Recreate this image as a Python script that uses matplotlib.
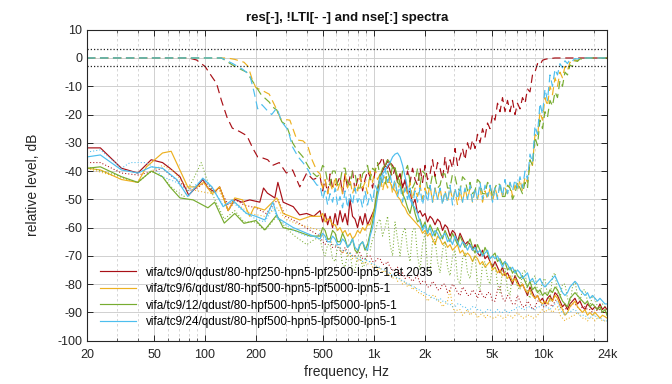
import matplotlib
matplotlib.use("Agg")
import matplotlib.pyplot as plt
from matplotlib.ticker import FixedLocator, NullFormatter, LogLocator

plt.rcParams['font.family'] = ['Liberation Sans', 'DejaVu Sans']
plt.rcParams['axes.unicode_minus'] = False

# shared frequency grid (Hz) for the noisy upper part of every curve
F_HI = [480, 497, 514, 532, 550, 569, 589, 609, 630, 652,
        675, 698, 722, 747, 773, 800, 828, 857, 886, 917,
        949, 982, 1016, 1051, 1088, 1125, 1164, 1205, 1246, 1290,
        1334, 1380, 1428, 1478, 1529, 1582, 1637, 1693, 1752, 1813,
        1876, 1941, 2008, 2078, 2150, 2224, 2301, 2381, 2464, 2549,
        2637, 2729, 2823, 2921, 3022, 3127, 3236, 3348, 3464, 3584,
        3708, 3837, 3969, 4107, 4249, 4397, 4549, 4707, 4870, 5039,
        5213, 5394, 5581, 5774, 5974, 6181, 6395, 6617, 6846, 7083,
        7329, 7583, 7846, 8118, 8399, 8690, 8991, 9303, 9625, 9959,
        10300, 10660, 11030, 11410, 11810, 12220, 12640, 13080, 13530, 14000,
        14490, 14990, 15510, 16050, 16600, 17180, 17770, 18390, 19020, 19680,
        20360, 21070, 21800, 22560, 23340, 24000]

# ---- vifa/tc9/0 (red) ----
RED_RES_LO_F = [20, 24, 32, 40, 48, 56, 62, 71, 80, 89, 97, 104, 114, 122, 137, 150, 165, 184,
                211, 222, 234, 259, 270, 290, 333, 363, 400, 440]
RED_RES_LO_DB = [-31.8, -31.8, -39, -40.7, -36, -37, -39, -42, -48.5, -45.6, -43, -46, -47.4, -45.6,
                 -54, -50, -51, -50.2, -51, -46, -47.8, -49.5, -44, -51, -52.6, -55.5, -55, -56]
RED_RES_HI_DB = [-54, -58, -55, -59, -56, -60, -55, -59, -54, -58,
                 -55, -59, -50, -56, -57, -60, -56, -59, -55, -59,
                 -57, -55, -53, -47, -42, -40, -38, -39, -37, -38,
                 -40, -43, -41, -46, -43, -48, -47, -52, -50, -55,
                 -54, -56, -55, -58, -56, -57, -59, -57, -58, -61,
                 -59, -60, -63, -61, -62, -65, -62, -64, -66, -65,
                 -66, -68, -66, -69, -70, -68, -71, -70, -72, -74,
                 -72, -74, -76, -74, -77, -76, -78, -80, -77, -79,
                 -81, -80, -82, -84, -81, -83, -85, -84, -86, -85,
                 -87, -85, -84, -86, -83, -84, -86, -88, -87, -89,
                 -87, -86, -85, -87, -86, -88, -89, -87, -88, -89,
                 -88, -89, -87, -89, -88, -89]
RED_LTI_LO_F = [20, 80, 89, 100, 110, 117, 125, 135, 145, 160, 177, 192, 205, 220, 235, 251,
                275, 303, 330, 364, 400, 436]
RED_LTI_LO_DB = [0, 0, -0.7, -3, -6.7, -9, -15, -21, -24.8, -26, -27.5, -32, -35, -35.4, -36, -38,
                 -37, -40.7, -39.6, -45.6, -40.7, -43]
RED_LTI_HI_DB = [-42, -47, -43, -48, -41, -46, -45, -44, -42, -48,
                 -41, -46, -42, -40, -47, -43, -41, -47, -43, -40,
                 -42, -46, -40, -38, -37, -35, -39, -36, -40, -42,
                 -39, -44, -41, -45, -44, -40, -44, -39, -43, -45,
                 -39, -44, -38, -43, -41, -36, -42, -37, -39, -43,
                 -35, -41, -36, -39, -32, -38, -35, -32, -36, -30,
                 -33, -29, -32, -27, -30, -25, -28, -23, -25, -20,
                 -22, -16, -19, -14, -19, -15, -19, -15, -20, -16,
                 -18, -14, -16, -11, -12, -6, -5, -2, -2.5, -0.8,
                 -0.5, -0.3, -0.2, -0.1, 0, 0, 0, 0, 0, 0,
                 0, 0, 0, 0, 0, 0, 0, 0, 0, 0,
                 0, 0, 0, 0, 0, 0]
RED_NSE_LO_F = [20, 24, 32, 40, 48, 56, 64, 71, 80, 90, 100, 114, 122, 137, 150, 170, 200, 230,
                270, 300, 350, 420]
RED_NSE_LO_DB = [-37, -37, -40.7, -41.4, -40.3, -39, -42, -44, -47, -46, -44, -47, -46, -52, -50,
                 -52, -53, -55, -50, -56, -58, -61]
RED_NSE_HI_DB = [-63, -65, -66, -64, -65, -67, -67, -66, -68, -69,
                 -67, -69, -69, -70, -70, -68, -69, -71, -71, -70,
                 -70, -72, -72, -71, -71, -73, -73, -72, -74, -75,
                 -75, -74, -77, -76, -78, -77, -78, -79, -78, -77,
                 -80, -79, -79, -81, -81, -79, -80, -82, -82, -80,
                 -80, -83, -82, -80, -81, -83, -84, -81, -82, -84,
                 -84, -82, -83, -85, -82, -84, -85, -83, -83, -86,
                 -86, -82, -81, -85, -86, -84, -85, -87, -87, -84,
                 -86, -88, -88, -86, -87, -89, -88, -86, -86, -88,
                 -88, -87, -87, -88, -86, -85, -88, -89, -89, -88,
                 -88, -87, -87, -88, -89, -88, -88, -89, -89, -90,
                 -90, -89, -89, -90, -90, -90]

# ---- vifa/tc9/6 (orange) ----
ORA_RES_LO_F = [20, 24, 32, 40, 45, 56, 63, 79, 90, 98, 110, 122, 137, 150, 167, 184, 196, 225,
                266, 290, 364, 420]
ORA_RES_LO_DB = [-39, -39.6, -43, -44, -38.5, -33.6, -33, -45.6, -45.6, -44, -48, -45.6, -54,
                 -49.5, -50.2, -56, -52.6, -53.8, -49.5, -55, -57.3, -56]
ORA_RES_HI_DB = [-56, -55, -58, -57, -57, -59, -59, -61, -60, -62,
                 -61, -63, -62, -64, -63, -61, -62, -60, -61, -59,
                 -59, -56, -52, -48, -45, -43, -42, -44, -44, -46,
                 -47, -49, -50, -52, -53, -55, -56, -57, -58, -59,
                 -60, -62, -61, -63, -62, -64, -66, -63, -64, -66,
                 -65, -67, -66, -68, -67, -66, -69, -68, -70, -69,
                 -70, -72, -70, -71, -73, -72, -74, -73, -72, -75,
                 -74, -76, -75, -77, -76, -78, -77, -79, -78, -80,
                 -81, -80, -82, -83, -82, -84, -85, -84, -86, -87,
                 -86, -87, -85, -86, -84, -85, -87, -89, -91, -90,
                 -88, -87, -86, -88, -89, -90, -89, -91, -90, -91,
                 -90, -91, -92, -91, -91.5, -92]
ORA_LTI_LO_F = [20, 135, 150, 170, 180, 190, 200, 215, 240, 262, 280, 318, 350, 380, 405, 430, 460]
ORA_LTI_LO_DB = [0, 0, -0.5, -1.5, -3, -7.5, -10.5, -11.3, -12.8, -17.5, -21.5, -22, -29, -29.3,
                 -31, -36, -40]
ORA_LTI_HI_DB = [-41, -46, -43, -48, -44, -47, -42, -47, -44, -48,
                 -41, -46, -43, -48, -45, -47, -42, -46, -44, -48,
                 -40, -44, -39, -43, -41, -47, -43, -46, -42, -48,
                 -44, -48, -43, -49, -45, -48, -44, -50, -46, -49,
                 -45, -50, -46, -49, -45, -51, -46, -50, -46, -51,
                 -47, -51, -46, -50, -47, -52, -47, -51, -46, -50,
                 -46, -51, -47, -50, -46, -51, -47, -50, -46, -51,
                 -46, -49, -45, -49, -46, -48, -44, -49, -45, -47,
                 -43, -47, -42, -44, -37, -38, -27, -28, -19, -22,
                 -14, -17, -10, -13, -7, -10, -5, -7, -3, -4.5,
                 -1.5, -2, -0.6, -1, -0.2, -0.3, 0, 0, 0, 0,
                 0, 0, 0, 0, 0, 0]
ORA_NSE_LO_F = [20, 32, 40, 48, 56, 65, 79, 90, 110, 122, 137, 150, 184, 225, 266, 300, 364, 420]
ORA_NSE_LO_DB = [-39, -42.5, -44, -40, -38, -40, -46, -47, -48, -47, -54, -51, -55, -56, -53,
                 -57, -59, -60]
ORA_NSE_HI_DB = [-61, -63, -63, -64, -64, -66, -66, -67, -67, -69,
                 -68, -70, -69, -71, -70, -72, -71, -73, -72, -73,
                 -72, -74, -73, -75, -74, -76, -75, -77, -76, -78,
                 -77, -79, -78, -80, -79, -81, -80, -82, -81, -83,
                 -83, -84, -84, -86, -85, -84, -84, -86, -86, -88,
                 -87, -86, -82, -88, -90, -89, -89, -91, -90, -89,
                 -91, -90, -90, -92, -91, -90, -92, -91, -91.5, -92,
                 -92, -91, -91, -92, -92, -91, -91, -92, -91, -90,
                 -91, -92, -92, -91, -91, -92, -92, -91, -90, -89,
                 -90, -89, -89, -90, -89, -88, -91, -92, -93, -92,
                 -92, -91, -91, -90, -91, -92, -92, -93, -92, -92,
                 -93, -92, -92, -93, -93, -93]

# ---- vifa/tc9/12 (green) ----
GRN_RES_LO_F = [20, 24, 32, 40, 48, 56, 62, 71, 85, 104, 114, 130, 150, 170, 200, 226, 266, 290,
                340, 420]
GRN_RES_LO_DB = [-39, -38.5, -42, -44, -40, -42, -45.6, -49.5, -50.2, -53, -51, -58.4, -55, -58.5,
                 -57.5, -60.8, -55.5, -60, -61, -63]
GRN_RES_HI_DB = [-63, -60, -61, -64, -64, -61, -62, -65, -65, -62,
                 -64, -67, -66, -64, -68, -69, -66, -65, -68, -66,
                 -62, -58, -52, -46, -42, -39, -38, -36, -37, -39,
                 -39, -42, -44, -48, -50, -53, -55, -51, -55, -58,
                 -57, -60, -58, -62, -59, -61, -63, -60, -62, -64,
                 -61, -63, -65, -62, -64, -66, -63, -65, -67, -66,
                 -64, -67, -69, -66, -68, -70, -67, -69, -71, -70,
                 -69, -72, -71, -73, -72, -75, -74, -76, -75, -77,
                 -78, -77, -79, -81, -79, -82, -81, -83, -82, -84,
                 -83, -84, -82, -83, -81, -82, -84, -86, -87, -88,
                 -85, -84, -83, -84, -85, -86, -87, -86, -88, -87,
                 -88, -89, -88, -90, -89, -91]
GRN_LTI_LO_F = [20, 125, 150, 176, 195, 215, 240, 251, 266, 285, 303, 330, 350, 380, 410, 436, 460]
GRN_LTI_LO_DB = [0, 0, -3, -5, -9, -13, -15.6, -17.3, -18.4, -22.6, -23.7, -30, -32.5, -35, -38.5,
                 -40.7, -42]
GRN_LTI_HI_DB = [-41, -38, -39, -44, -45, -40, -40, -45, -44, -39,
                 -39, -44, -45, -40, -41, -46, -46, -41, -40, -38,
                 -43, -39, -40, -37, -42, -44, -45, -40, -43, -38,
                 -39, -44, -45, -40, -40, -38, -44, -46, -44, -39,
                 -45, -40, -41, -46, -46, -41, -42, -46, -45, -41,
                 -41, -46, -46, -41, -42, -46, -47, -42, -43, -47,
                 -44, -48, -47, -43, -44, -48, -48, -44, -45, -49,
                 -46, -44, -45, -49, -49, -45, -46, -50, -48, -44,
                 -46, -48, -44, -46, -36, -38, -28, -31, -22, -25,
                 -19, -21, -15, -17, -12, -14, -8, -10, -5, -6,
                 -2.5, -3, -1, -1.2, -0.3, -0.5, 0, 0, 0, 0,
                 0, 0, 0, 0, 0, 0]
GRN_NSE_LO_F = [20, 32, 40, 48, 56, 64, 75, 85, 95, 104, 114, 130, 150, 170, 200, 226, 266, 300,
                340, 400, 450]
GRN_NSE_LO_DB = [-38.5, -42, -44, -40, -42, -46, -49, -43, -37, -44, -50, -57, -54, -58, -58, -61,
                 -56, -60, -63, -66, -64]
GRN_NSE_HI_DB = [-64, -68, -70, -66, -66, -71, -72, -67, -67, -73,
                 -74, -69, -69, -75, -75, -70, -70, -74, -73, -68,
                 -68, -64, -62, -58, -57, -63, -60, -56, -66, -70,
                 -58, -64, -70, -62, -60, -68, -72, -61, -60, -70,
                 -75, -66, -62, -74, -76, -65, -64, -72, -76, -68,
                 -65, -74, -77, -70, -68, -78, -80, -71, -69, -76,
                 -78, -72, -70, -80, -82, -73, -72, -78, -80, -73,
                 -73, -80, -83, -75, -74, -82, -84, -76, -76, -81,
                 -82, -76, -75, -83, -85, -78, -77, -82, -84, -79,
                 -78, -84, -86, -77, -76, -83, -85, -80, -80, -85,
                 -87, -81, -79, -84, -86, -82, -82, -86, -88, -84,
                 -85, -88, -89, -87, -88, -90]

# ---- vifa/tc9/24 (blue) ----
BLU_RES_LO_F = [20, 24, 32, 40, 48, 56, 68, 79, 97, 110, 128, 145, 176, 200, 226, 252, 270, 333,
                400, 440]
BLU_RES_LO_DB = [-35, -34.3, -39.6, -40.7, -38.5, -39, -43, -49, -42.5, -45.6, -52.6, -50.2, -55,
                 -56, -57.3, -51, -56.6, -60, -62, -63]
BLU_RES_HI_DB = [-64, -62, -63, -65, -65, -63, -64, -66, -66, -64,
                 -65, -67, -66, -64, -67, -68, -66, -65, -67, -68,
                 -63, -60, -55, -49, -45, -41, -40, -38, -37, -35,
                 -34, -33.6, -35, -38, -42, -46, -50, -52, -53, -55,
                 -58, -61, -59, -62, -60, -63, -61, -62, -64, -63,
                 -62, -65, -64, -66, -63, -65, -67, -65, -66, -68,
                 -66, -68, -67, -69, -68, -70, -69, -68, -71, -70,
                 -71, -70, -72, -74, -72, -73, -75, -74, -76, -75,
                 -76, -78, -77, -76, -79, -78, -80, -79, -78, -80,
                 -81, -80, -79, -78, -77, -79, -81, -83, -84, -83,
                 -81, -80, -79, -80, -82, -83, -84, -83, -85, -84,
                 -85, -86, -85, -86, -87, -87]
BLU_LTI_LO_F = [20, 125, 146, 167, 184, 195, 205, 217, 232, 248, 266, 285, 310, 330, 356, 380, 408,
                436, 460]
BLU_LTI_LO_DB = [0, 0, -2, -4, -6, -12, -18, -16.5, -18.4, -20, -17.7, -22.6, -25.5, -31.5, -35,
                 -37, -39.6, -43, -45]
BLU_LTI_HI_DB = [-45, -50, -47, -52, -48, -51, -46, -52, -49, -53,
                 -47, -53, -48, -52, -46, -51, -49, -53, -47, -52,
                 -48, -51, -45, -47, -42, -44, -39, -44, -41, -46,
                 -43, -49, -45, -51, -46, -50, -46, -52, -47, -51,
                 -46, -52, -47, -51, -45, -51, -46, -50, -46, -52,
                 -47, -51, -45, -52, -46, -50, -45, -51, -46, -50,
                 -45, -51, -46, -50, -44, -50, -45, -49, -45, -51,
                 -46, -50, -44, -49, -43, -48, -44, -47, -43, -46,
                 -42, -46, -40, -43, -34, -37, -24, -27, -16, -20,
                 -11, -15, -6, -10, -4, -6, -2, -3.5, -1, -2,
                 -0.5, -1, -0.2, -0.4, 0, 0, 0, 0, 0, 0,
                 0, 0, 0, 0, 0, 0]
BLU_NSE_LO_F = [20, 24, 32, 36, 44, 48, 56, 68, 79, 97, 110, 128, 145, 176, 200, 226, 252, 270,
                333, 400, 460]
BLU_NSE_LO_DB = [-33.3, -32.5, -39, -37, -37, -38, -42, -44, -47, -43, -46, -52, -51, -55, -57,
                 -58, -53, -57, -61, -63, -63]
BLU_NSE_HI_DB = [-62, -63, -64, -65, -65, -66, -66, -67, -67, -68,
                 -68, -69, -69, -70, -70, -71, -71, -72, -71, -72,
                 -72, -73, -73, -74, -74, -75, -75, -76, -76, -77,
                 -77, -78, -78, -79, -79, -80, -80, -81, -81, -82,
                 -82, -83, -83, -84, -84, -85, -85, -86, -85, -86,
                 -86, -87, -87, -88, -88, -87, -87, -88, -88, -89,
                 -89, -88, -88, -89, -89, -90, -90, -89, -89, -90,
                 -90, -89, -90, -90, -89, -90, -90, -89, -89, -88,
                 -88, -89, -89, -88, -88, -89, -89, -88, -88, -87,
                 -88, -88, -89, -88, -87, -86, -89, -90, -91, -90,
                 -90, -89, -89, -90, -91, -91, -91, -92, -92, -91,
                 -91, -92, -92, -92.5, -93, -93]

LABELS = ["vifa/tc9/0/qdust/80-hpf250-hpn5-lpf2500-lpn5-1;at.2035",
          "vifa/tc9/6/qdust/80-hpf500-hpn5-lpf5000-lpn5-1",
          "vifa/tc9/12/qdust/80-hpf500-hpn5-lpf5000-lpn5-1",
          "vifa/tc9/24/qdust/80-hpf500-hpn5-lpf5000-lpn5-1"]
COLORS = ['#A80F16', '#EDB120', '#77AC30', '#4DBEEE']

X_TICKS = [20, 50, 100, 200, 500, 1000, 2000, 5000, 10000, 24000]
X_TICKLABELS = ['20', '50', '100', '200', '500', '1k', '2k', '5k', '10k', '24k']
Y_TICKS = list(range(-100, 11, 10))
REF_LEVELS = [3, -3]

series = [
    (RED_RES_LO_F, RED_RES_LO_DB, RED_RES_HI_DB, RED_LTI_LO_F, RED_LTI_LO_DB, RED_LTI_HI_DB,
     RED_NSE_LO_F, RED_NSE_LO_DB, RED_NSE_HI_DB),
    (ORA_RES_LO_F, ORA_RES_LO_DB, ORA_RES_HI_DB, ORA_LTI_LO_F, ORA_LTI_LO_DB, ORA_LTI_HI_DB,
     ORA_NSE_LO_F, ORA_NSE_LO_DB, ORA_NSE_HI_DB),
    (GRN_RES_LO_F, GRN_RES_LO_DB, GRN_RES_HI_DB, GRN_LTI_LO_F, GRN_LTI_LO_DB, GRN_LTI_HI_DB,
     GRN_NSE_LO_F, GRN_NSE_LO_DB, GRN_NSE_HI_DB),
    (BLU_RES_LO_F, BLU_RES_LO_DB, BLU_RES_HI_DB, BLU_LTI_LO_F, BLU_LTI_LO_DB, BLU_LTI_HI_DB,
     BLU_NSE_LO_F, BLU_NSE_LO_DB, BLU_NSE_HI_DB),
]

fig = plt.figure(figsize=(6.72, 3.84), dpi=100)
ax = fig.add_axes([87 / 672, 1 - 340.7 / 384, 520 / 672, 311 / 384])

handles = []
for (rf, rd, rh, lf, ld, lh, nf, nd, nh), color, label in zip(series, COLORS, LABELS):
    h, = ax.plot(rf + F_HI, rd + rh, color=color, lw=0.85, label=label)
    ax.plot(lf + F_HI, ld + lh, color=color, lw=0.85, dashes=(7, 4))
    ax.plot(nf + F_HI, nd + nh, color=color, lw=0.75, ls=(0, (1, 2)))
    handles.append(h)

for lvl in REF_LEVELS:
    ax.axhline(lvl, color='#222222', lw=0.9, ls=(0, (1, 1.6)))

ax.set_xscale('log')
ax.set_xlim(20, 24000)
ax.set_ylim(-100, 10)
ax.xaxis.set_major_locator(FixedLocator(X_TICKS))
ax.set_xticklabels(X_TICKLABELS)
ax.xaxis.set_minor_locator(LogLocator(base=10, subs=range(2, 10), numticks=20))
ax.xaxis.set_minor_formatter(NullFormatter())
ax.set_yticks(Y_TICKS)

ax.grid(True, which='major', color='#d0d0d0', lw=0.7, ls='-')
ax.grid(True, which='minor', axis='x', color='#d0d0d0', lw=0.6, ls=(0, (3, 3)))
ax.set_axisbelow(True)

ax.tick_params(which='both', direction='in', top=True, right=True, labelsize=9, colors='#262626')
ax.tick_params(which='major', length=4, width=0.7)
ax.tick_params(which='minor', length=2, width=0.5)
ax.tick_params(axis='x', pad=6)
for sp in ax.spines.values():
    sp.set_color('#262626')
    sp.set_linewidth(0.8)

ax.set_xlabel('frequency, Hz', fontsize=10, color='#262626', labelpad=3)
ax.set_ylabel('relative level, dB', fontsize=10, color='#262626', labelpad=12)
ax.set_title('res[-], !LTI[- -] and nse[:] spectra', fontsize=9.5, fontweight='bold',
             color='#111111', pad=6)

ax.legend(handles=handles, loc='lower left', bbox_to_anchor=(0.01, 0.014), frameon=False,
          fontsize=8.5, handlelength=3.0, handletextpad=0.85, labelspacing=0.38, borderpad=0.2)

fig.savefig('out.png', dpi=100)
